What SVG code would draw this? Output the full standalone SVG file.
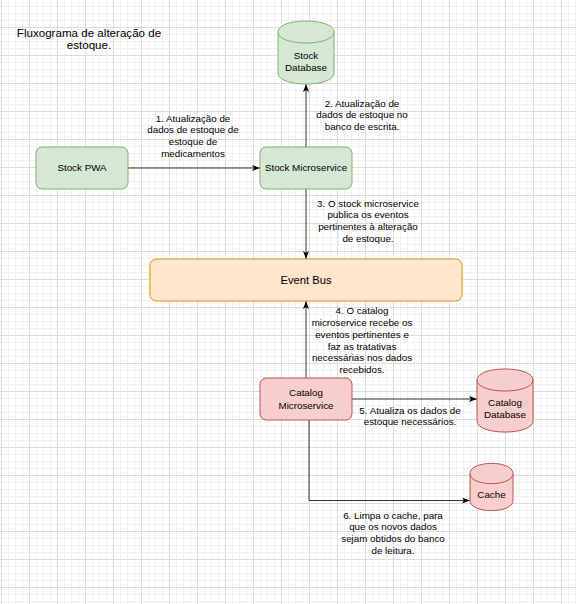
<svg xmlns="http://www.w3.org/2000/svg" width="576" height="604" viewBox="0 0 576 604">
  <defs>
    <pattern id="grid" x="1" y="-1" width="28" height="28" patternUnits="userSpaceOnUse">
      <path d="M7.5,0 V28 M14.5,0 V28 M21.5,0 V28 M0,7.5 H28 M0,14.5 H28 M0,21.5 H28" stroke="#f1f1f1" stroke-width="1" fill="none"/>
      <path d="M0.5,0 V28 M0,0.5 H28" stroke="#dcdcdc" stroke-width="1" fill="none"/>
    </pattern>
    <marker id="arrow" viewBox="0 0 8 6" refX="8" refY="3" markerWidth="8" markerHeight="6" markerUnits="userSpaceOnUse" orient="auto">
      <path d="M0,0 L8,3 L0,6 L2,3 Z" fill="#000"/>
    </marker>
    <style>
      text { font-family: "Liberation Sans", Arial, Helvetica, sans-serif; fill: #000; text-anchor: middle; }
      .t { font-size: 9.8px; }
      .title { font-size: 11.6px; }
      .big { font-size: 11.2px; }
      .green { fill: #d5e8d4; stroke: #82b366; stroke-width: 1; }
      .red { fill: #f8cecc; stroke: #b85450; stroke-width: 1; }
      .orange { fill: #ffe6cc; stroke: #d79b00; stroke-width: 1; }
      .edge { fill: none; stroke: #000; stroke-width: 0.8; }
    </style>
  </defs>
  <rect x="0" y="0" width="576" height="604" fill="#ffffff"/>
  <rect x="0" y="0" width="576" height="604" fill="url(#grid)"/>

  <g id="title">
    <text class="title" x="89" y="37">Fluxograma de alteração de</text>
    <text class="title" x="89" y="49">estoque.</text>
  </g>

  <g id="connectors">
    <path class="edge" d="M128,168 H260" marker-end="url(#arrow)"/>
    <path class="edge" d="M306,147 V84" marker-end="url(#arrow)"/>
    <path class="edge" d="M306,189 V259" marker-end="url(#arrow)"/>
    <path class="edge" d="M306,378 V301" marker-end="url(#arrow)"/>
    <path class="edge" d="M352,399 H477" marker-end="url(#arrow)"/>
    <path class="edge" d="M309,420 V500.5 H470" marker-end="url(#arrow)"/>
    <g id="edge-labels">
      <text class="t" x="193" y="121.5">1. Atualização de</text>
      <text class="t" x="193" y="133.2">dados de estoque de</text>
      <text class="t" x="193" y="144.9">estoque de</text>
      <text class="t" x="193" y="156.6">medicamentos</text>

      <text class="t" x="362" y="106.5">2. Atualização de</text>
      <text class="t" x="362" y="118.2">dados de estoque no</text>
      <text class="t" x="362" y="129.9">banco de escrita.</text>

      <text class="t" x="368" y="206.6">3. O stock microservice</text>
      <text class="t" x="368" y="218.3">publica os eventos</text>
      <text class="t" x="368" y="230">pertinentes à alteração</text>
      <text class="t" x="368" y="241.7">de estoque.</text>

      <text class="t" x="362" y="314.4">4. O catalog</text>
      <text class="t" x="362" y="326.1">microservice recebe os</text>
      <text class="t" x="362" y="337.8">eventos pertinentes e</text>
      <text class="t" x="362" y="349.5">faz as tratativas</text>
      <text class="t" x="362" y="361.2">necessárias nos dados</text>
      <text class="t" x="362" y="372.9">recebidos.</text>

      <text class="t" x="410" y="413.5">5. Atualiza os dados de</text>
      <text class="t" x="410" y="425.2">estoque necessários.</text>

      <text class="t" x="393" y="518.5">6. Limpa o cache, para</text>
      <text class="t" x="393" y="530.2">que os novos dados</text>
      <text class="t" x="393" y="541.9">sejam obtidos do banco</text>
      <text class="t" x="393" y="553.6">de leitura.</text>
    </g>
  </g>

  <g id="stock-database">
    <path class="green" d="M278,32 C278,17.3 334,17.3 334,32 L334,73 C334,87.7 278,87.7 278,73 Z"/>
    <path class="green" d="M278,32 C278,46.7 334,46.7 334,32" fill="none"/>
    <text class="t" x="306" y="59">Stock</text>
    <text class="t" x="306" y="71">Database</text>
  </g>

  <g id="stock-pwa">
    <rect class="green" x="36" y="147" width="92" height="42" rx="6.3"/>
    <text class="t" x="82" y="171.4">Stock PWA</text>
  </g>

  <g id="stock-microservice">
    <rect class="green" x="260" y="147" width="92" height="42" rx="6.3"/>
    <text class="t" x="306" y="171.4">Stock Microservice</text>
  </g>

  <g id="event-bus">
    <rect class="orange" x="150" y="259" width="312" height="42" rx="6.3"/>
    <text class="big" x="306" y="284">Event Bus</text>
  </g>

  <g id="catalog-microservice">
    <rect class="red" x="260" y="378" width="92" height="42" rx="6.3"/>
    <text class="t" x="306" y="396.4">Catalog</text>
    <text class="t" x="306" y="408.6">Microservice</text>
  </g>

  <g id="catalog-database">
    <path class="red" d="M477,380 C477,365.3 533,365.3 533,380 L533,421 C533,435.7 477,435.7 477,421 Z"/>
    <path class="red" d="M477,380 C477,394.7 533,394.7 533,380" fill="none"/>
    <text class="t" x="505" y="406">Catalog</text>
    <text class="t" x="505" y="418">Database</text>
  </g>

  <g id="cache">
    <path class="red" d="M470,473.5 C470,460 513,460 513,473.5 L513,500.5 C513,514 470,514 470,500.5 Z"/>
    <path class="red" d="M470,473.5 C470,487 513,487 513,473.5" fill="none"/>
    <text class="t" x="491.5" y="498.4">Cache</text>
  </g>
</svg>
